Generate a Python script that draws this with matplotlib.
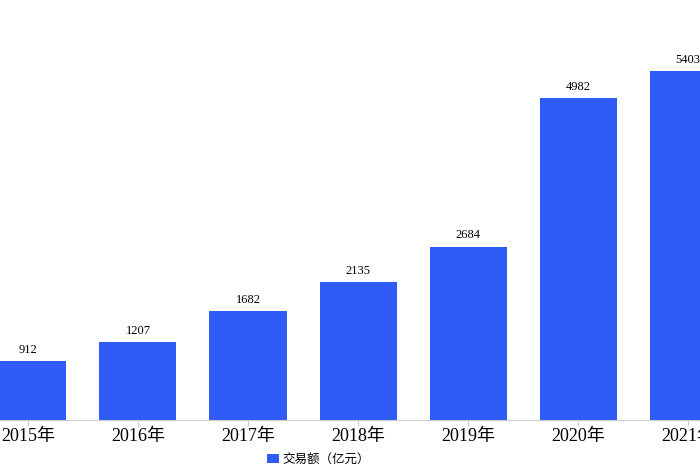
import matplotlib
matplotlib.use("Agg")
import matplotlib.pyplot as plt
from matplotlib.patches import Patch

years = ["2015年", "2016年", "2017年", "2018年", "2019年", "2020年", "2021年"]
values = [912, 1207, 1682, 2135, 2684, 4982, 5403]
color = "#2f5cf6"
fam = ["Liberation Serif", "Noto Sans CJK SC"]

fig = plt.figure(figsize=(7, 4.7), dpi=100)
ax = fig.add_axes([0, 50/470, 1, 420/470])
x = list(range(len(values)))
ax.bar(x, values, width=0.7, color=color)
for xi, v in zip(x, values):
    ax.text(xi, v + 80, str(v), ha="center", va="bottom", fontsize=9, family=fam)
ax.set_xlim(-0.2545, 6.109)
ax.set_ylim(0, 6502)
ax.set_xticks(x)
ax.set_xticklabels(years, family=fam, fontsize=13)
ax.tick_params(axis="x", length=4, color="#cccccc", pad=2)
ax.set_yticks([])
for s in ["top", "left", "right"]:
    ax.spines[s].set_visible(False)
ax.spines["bottom"].set_color("#cccccc")
fig.legend(handles=[Patch(facecolor=color, label="交易额（亿元）")], loc="center",
           bbox_to_anchor=(0.455, 460/470 * 0 + 10/470), frameon=False,
           prop={"family": fam, "size": 9}, handlelength=1.0, handleheight=0.7,
           handletextpad=0.3)
fig.savefig("out.png")
